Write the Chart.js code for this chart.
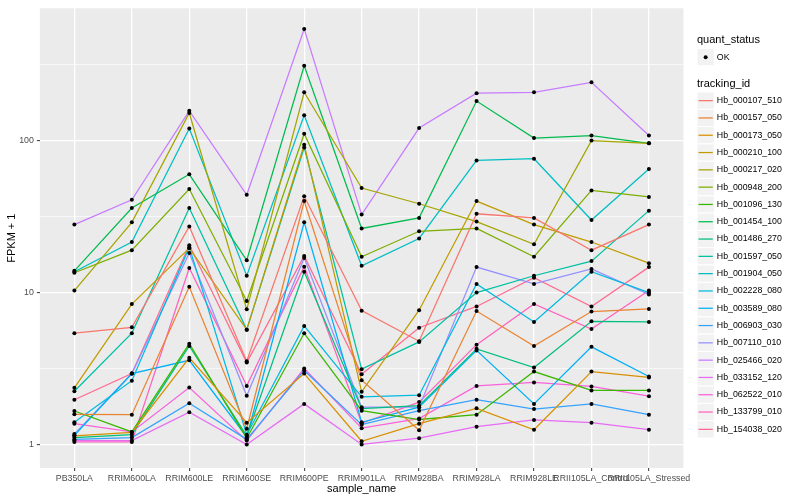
<!DOCTYPE html>
<html>
<head>
<meta charset="utf-8">
<script src="https://cdn.jsdelivr.net/npm/chart.js@4.4.1/dist/chart.umd.min.js"></script>
<style>
  html, body { margin: 0; padding: 0; background: #fff; }
  #wrap { width: 800px; height: 500px; }
</style>
</head>
<body>
<div id="wrap"><canvas id="chart" width="800" height="500"></canvas></div>
<script>
const sampleNames = ["PB350LA", "RRIM600LA", "RRIM600LE", "RRIM600SE", "RRIM600PE", "RRIM901LA",
  "RRIM928BA", "RRIM928LA", "RRIM928LE", "RRII105LA_Control", "RRII105LA_Stressed"];

const trackingIds = ["Hb_000107_510", "Hb_000157_050", "Hb_000173_050", "Hb_000210_100", "Hb_000217_020",
  "Hb_000948_200", "Hb_001096_130", "Hb_001454_100", "Hb_001486_270", "Hb_001597_050",
  "Hb_001904_050", "Hb_002228_080", "Hb_003589_080", "Hb_006903_030", "Hb_007110_010",
  "Hb_025466_020", "Hb_033152_120", "Hb_062522_010", "Hb_133799_010", "Hb_154038_020"];

// FPKM + 1, one value per sample (same order as sampleNames)
const hb000107_510 = [5.4, 5.9, 27.2, 3.53, 43, 7.6, 4.78, 33, 31, 19, 28];
const hb000157_050 = [1.58, 1.57, 10.9, 1.27, 40, 2.65, 1.24, 7.55, 4.45, 7.5, 7.8];
const hb000173_050 = [1.14, 1.2, 3.72, 1.39, 2.93, 1.05, 1.37, 1.73, 1.25, 3.02, 2.76];
const hb000210_100 = [2.36, 8.4, 19.6, 5.7, 94, 2.22, 7.65, 40, 28, 21.5, 15.6];
const hb000217_020 = [10.3, 29, 152, 7.75, 208, 48.7, 38.4, 29.3, 20.8, 100, 96];
const hb000948_200 = [13.5, 19, 48, 8.8, 111, 17.2, 25.3, 26.4, 17.2, 47, 42.6];
const hb001096_130 = [1.66, 1.21, 4.6, 1.1, 5.39, 1.67, 1.46, 1.57, 3.02, 2.27, 2.27];
const hb001454_100 = [13.9, 36, 60, 16.3, 311, 26.4, 31, 182, 104, 108, 96];
const hb001486_270 = [1.11, 1.16, 4.45, 1.14, 13.7, 1.72, 1.8, 4.26, 3.21, 6.47, 6.4];
const hb001597_050 = [2.24, 5.4, 36, 5.7, 90, 3.13, 4.73, 10, 12.9, 16.1, 34.6];
const hb001904_050 = [13.7, 21.5, 120, 12.9, 147, 15, 22.7, 74, 76, 30, 65];
const hb002228_080 = [1.4, 2.63, 19.9, 1.16, 6.03, 2.06, 2.11, 11.4, 6.4, 13.7, 10];
const hb003589_080 = [1.15, 2.93, 3.58, 1.12, 29, 1.4, 1.76, 4.16, 1.85, 4.39, 2.8];
const hb006903_030 = [1.08, 1.11, 1.87, 1.08, 3.07, 1.35, 1.67, 1.97, 1.71, 1.85, 1.57];
const hb007110_010 = [1.17, 2.93, 18.2, 2.09, 16.9, 1.76, 1.76, 14.7, 11.4, 14.3, 9.7];
const hb025466_020 = [28, 40.8, 157, 44, 542, 32.6, 121, 205, 208, 242, 108];
const hb033152_120 = [1.06, 1.06, 1.63, 1.0, 1.85, 1.0, 1.1, 1.31, 1.45, 1.39, 1.25];
const hb062522_010 = [1.37, 1.21, 2.37, 1.06, 3.16, 1.28, 1.48, 2.43, 2.56, 2.41, 2.08];
const hb133799_010 = [1.04, 1.04, 14.5, 2.43, 14.8, 1.38, 1.9, 4.54, 8.4, 5.75, 10.3];
const hb154038_020 = [1.97, 2.93, 20.5, 3.46, 17.4, 2.9, 5.87, 8.1, 12.5, 8.1, 14.7];

const seriesValues = [hb000107_510, hb000157_050, hb000173_050, hb000210_100, hb000217_020,
  hb000948_200, hb001096_130, hb001454_100, hb001486_270, hb001597_050,
  hb001904_050, hb002228_080, hb003589_080, hb006903_030, hb007110_010,
  hb025466_020, hb033152_120, hb062522_010, hb133799_010, hb154038_020];

const yMajorTicks = [1, 10, 100];
const yMinorTicks = [3.1623, 31.623, 316.23];

// ggplot default hue palette for 20 levels
const colors = ["#F8766D", "#EA8331", "#D89000", "#C09B00", "#A3A500", "#7CAE00", "#39B600", "#00BB4E",
  "#00BF7D", "#00C1A3", "#00BFC4", "#00BAE0", "#00B0F6", "#35A2FF", "#9590FF", "#C77CFF",
  "#E76BF3", "#FA62DB", "#FF62BC", "#FF6C91"];

const FONT = '"Liberation Sans", Arial, Helvetica, sans-serif';

const lineSets = seriesValues.map((vals, s) => ({
  label: trackingIds[s],
  data: vals.map((v, i) => ({ x: i, y: v })),
  borderColor: colors[s],
  borderWidth: 1.25,
  pointRadius: 0,
  tension: 0,
  order: 2
}));

const pointSet = {
  label: "OK",
  type: "scatter",
  data: seriesValues.flatMap((vals) => vals.map((v, i) => ({ x: i, y: v }))),
  pointRadius: 2,
  pointBackgroundColor: "#000",
  pointBorderWidth: 0,
  showLine: false,
  order: 1
};

const panelBg = {
  id: "panelBg",
  beforeDraw(chart) {
    const { ctx, chartArea: a } = chart;
    ctx.save();
    ctx.fillStyle = "#fff";
    ctx.fillRect(0, 0, chart.width, chart.height);
    ctx.fillStyle = "#EBEBEB";
    ctx.fillRect(a.left, a.top, a.right - a.left, a.bottom - a.top);
    ctx.restore();
  }
};

const ggExtras = {
  id: "ggExtras",
  afterDraw(chart) {
    const { ctx, chartArea: a } = chart;
    ctx.save();
    ctx.fillStyle = "#000";
    ctx.textBaseline = "middle";

    // axis titles
    ctx.font = "11px " + FONT;
    ctx.textAlign = "center";
    ctx.fillText("sample_name", (a.left + a.right) / 2, 489);
    ctx.save();
    ctx.translate(12, (a.top + a.bottom) / 2);
    ctx.rotate(-Math.PI / 2);
    ctx.fillText("FPKM + 1", 0, 0);
    ctx.restore();

    // legends
    const keyX = 697, keySize = 17.3;
    ctx.textAlign = "left";
    ctx.fillText("quant_status", keyX, 40);

    const drawBox = (y) => {
      ctx.fillStyle = "#F2F2F2";
      ctx.fillRect(keyX, y, keySize, keySize);
      ctx.strokeStyle = "#fff";
      ctx.lineWidth = 1;
      ctx.strokeRect(keyX, y, keySize, keySize);
    };

    drawBox(48.5);
    ctx.fillStyle = "#000";
    ctx.beginPath();
    ctx.arc(keyX + keySize / 2, 48.5 + keySize / 2, 2, 0, Math.PI * 2);
    ctx.fill();
    ctx.font = "8.8px " + FONT;
    ctx.fillText("OK", keyX + keySize + 2.5, 48.5 + keySize / 2);

    ctx.font = "11px " + FONT;
    ctx.fillText("tracking_id", keyX, 84);

    chart.data.datasets.filter((d) => d.type !== "scatter").forEach((d, i) => {
      const y0 = 92 + i * keySize;
      drawBox(y0);
      ctx.strokeStyle = d.borderColor;
      ctx.lineWidth = 1.25;
      ctx.beginPath();
      ctx.moveTo(keyX + 1.5, y0 + keySize / 2);
      ctx.lineTo(keyX + keySize - 1.5, y0 + keySize / 2);
      ctx.stroke();
      ctx.fillStyle = "#000";
      ctx.font = "8.8px " + FONT;
      ctx.fillText(d.label, keyX + keySize + 2.5, y0 + keySize / 2);
    });
    ctx.restore();
  }
};

new Chart(document.getElementById("chart"), {
  type: "line",
  data: { datasets: [...lineSets, pointSet] },
  options: {
    responsive: false,
    animation: false,
    events: [],
    layout: { padding: { top: 5.5, right: 116.6, left: 0, bottom: 0 } },
    plugins: { legend: { display: false }, tooltip: { enabled: false } },
    scales: {
      x: {
        type: "linear",
        min: -0.6,
        max: sampleNames.length - 1 + 0.6,
        afterBuildTicks: (scale) => {
          scale.ticks = sampleNames.map((n, i) => ({ value: i }));
        },
        afterFit: (scale) => { scale.height = 32; },
        border: { display: false },
        grid: { color: "#fff", lineWidth: 1.3, tickColor: "#333", tickLength: 3, tickWidth: 1 },
        ticks: {
          autoSkip: false, maxRotation: 0, minRotation: 0, padding: 2,
          color: "#4D4D4D", font: { family: FONT, size: 8.8 },
          callback: (v) => sampleNames[v]
        }
      },
      y: {
        type: "logarithmic",
        min: Math.pow(10, -0.137),
        max: Math.pow(10, 2.871),
        afterBuildTicks: (scale) => {
          scale.ticks = [...yMajorTicks, ...yMinorTicks].sort((a, b) => a - b).map((v) => ({ value: v }));
        },
        afterFit: (scale) => { scale.width = 39.9; },
        border: { display: false },
        grid: {
          color: "#fff",
          lineWidth: (c) => (c.tick && yMajorTicks.includes(c.tick.value) ? 1.3 : 0.65),
          tickColor: (c) => (c.tick && yMajorTicks.includes(c.tick.value) ? "#333" : "rgba(0,0,0,0)"),
          tickLength: 3,
          tickWidth: 1
        },
        ticks: {
          autoSkip: false, padding: 3,
          color: "#4D4D4D", font: { family: FONT, size: 8.8 },
          callback: (v) => (yMajorTicks.includes(v) ? String(v) : "")
        }
      }
    }
  },
  plugins: [panelBg, ggExtras]
});
</script>
</body>
</html>
